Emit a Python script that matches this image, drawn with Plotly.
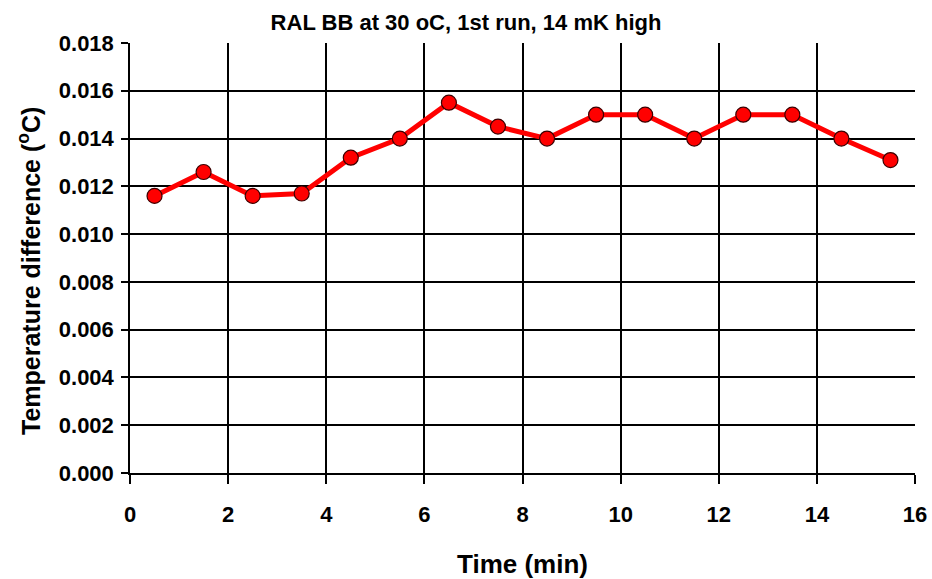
import plotly.graph_objects as go

# Time stamps (minutes) and measured temperature differences (°C)
time_min = [0.5, 1.5, 2.5, 3.5, 4.5, 5.5, 6.5, 7.5, 8.5, 9.5, 10.5, 11.5, 12.5, 13.5, 14.5, 15.5]
temp_diff = [0.0116, 0.0126, 0.0116, 0.0117, 0.0132, 0.0140, 0.0155, 0.0145,
             0.0140, 0.0150, 0.0150, 0.0140, 0.0150, 0.0150, 0.0140, 0.0131]

x_ticks = [0, 2, 4, 6, 8, 10, 12, 14, 16]
y_ticks = [0.000, 0.002, 0.004, 0.006, 0.008, 0.010, 0.012, 0.014, 0.016, 0.018]

FONT = "Liberation Sans, Arial, sans-serif"
W, H = 932, 579
ML, MR, MT, MB = 130, 17, 43, 106
PW, PH = W - ML - MR, H - MT - MB

fig = go.Figure()
fig.add_trace(go.Scatter(
    x=time_min, y=temp_diff, mode="lines+markers",
    line=dict(color="#ff0000", width=5),
    marker=dict(size=15, color="#ff0000", line=dict(color="#3a0000", width=1.2)),
    showlegend=False,
))

fig.update_layout(
    width=W, height=H,
    margin=dict(l=ML, r=MR, t=MT, b=MB),
    paper_bgcolor="white", plot_bgcolor="white",
    title=dict(text="<b>RAL BB at 30 oC, 1st run, 14 mK high</b>",
               x=0.5, xanchor="center", y=1 - 22 / H, yanchor="middle",
               font=dict(family=FONT, size=22, color="black")),
    font=dict(family=FONT, color="black"),
)

# y-axis title, placed as a rotated label left of the tick labels
fig.add_annotation(
    text="<b>Temperature difference (<sup>o</sup>C)</b>",
    xref="paper", yref="paper",
    x=(29 - ML) / PW, y=(H - MB - 271) / PH,
    xanchor="center", yanchor="middle", textangle=-90, showarrow=False,
    font=dict(family=FONT, size=25, color="black"),
)

fig.update_xaxes(
    range=[0, 16], tickvals=x_ticks, ticktext=[f"<b>{v}</b>" for v in x_ticks],
    showgrid=True, gridcolor="black", gridwidth=1.5,
    showline=True, linecolor="black", linewidth=1.5, mirror=False,
    ticks="outside", ticklen=9, tickwidth=1.5, tickcolor="black",
    ticklabelstandoff=12, automargin=False,
    tickfont=dict(family=FONT, size=22, color="black"),
    title=dict(text="<b>Time (min)</b>", standoff=30,
               font=dict(family=FONT, size=26, color="black")),
    zeroline=False,
)
fig.update_yaxes(
    range=[0, 0.018], tickvals=y_ticks,
    ticktext=[f"<b>{v:.3f}</b>" for v in y_ticks],
    showgrid=True, gridcolor="black", gridwidth=1.5,
    showline=True, linecolor="black", linewidth=1.5,
    ticks="outside", ticklen=7, tickwidth=1.5, tickcolor="black",
    ticklabelstandoff=3, automargin=False,
    tickfont=dict(family=FONT, size=22, color="black"),
    zeroline=False,
)

fig.write_html("out.html")
